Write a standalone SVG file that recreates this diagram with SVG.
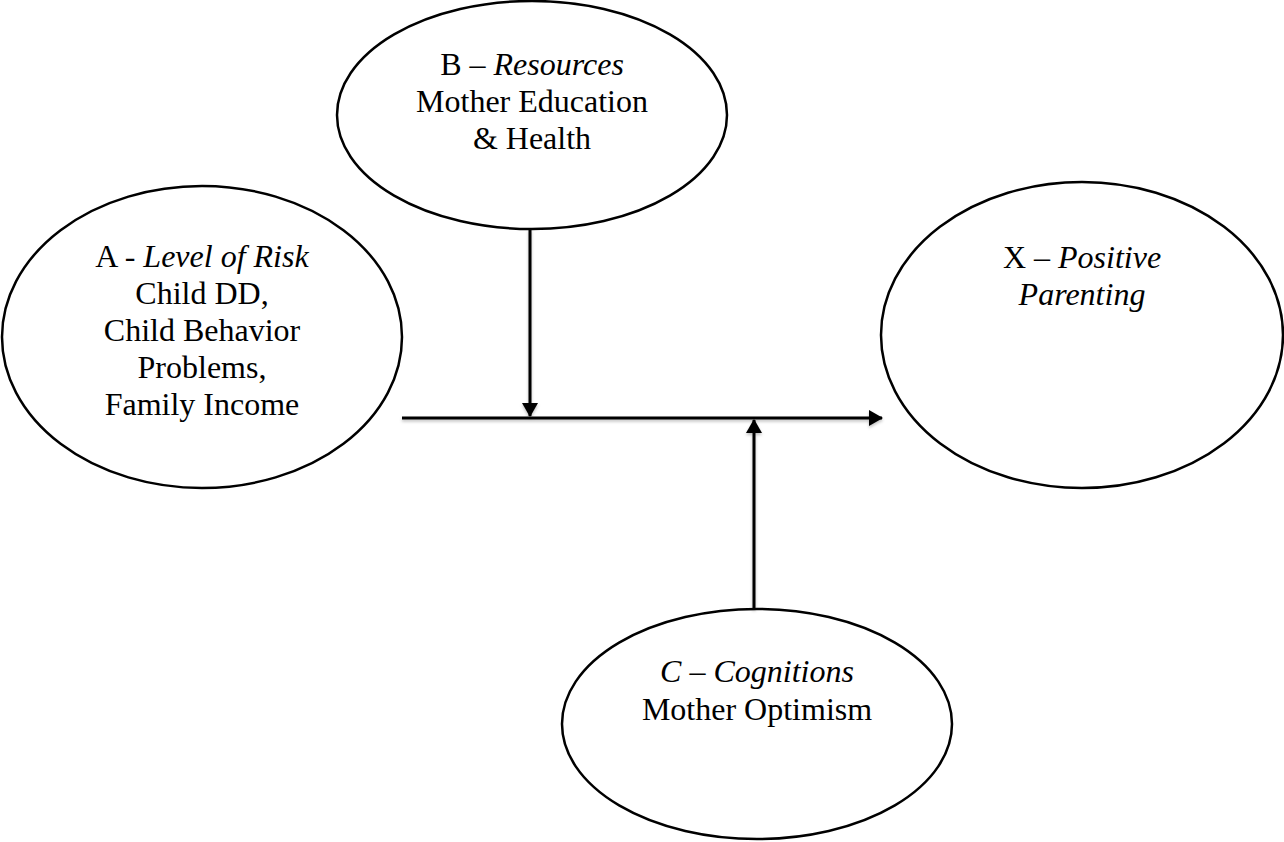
<svg xmlns="http://www.w3.org/2000/svg" width="1284" height="842" viewBox="0 0 1284 842">
<style>
.node{fill:#fff;stroke:#000;stroke-width:2.5}
.t{font-family:"Liberation Serif","Times New Roman",serif;font-size:32px;fill:#000;text-anchor:middle}
.i{font-style:italic}
.c{stroke:#000;stroke-width:3;fill:none;marker-end:url(#ah)}
</style>
<defs>
<marker id="ah" viewBox="0 0 14 16" refX="13" refY="8" markerWidth="14" markerHeight="16" markerUnits="userSpaceOnUse" orient="auto">
<path d="M0,0 L14,8 L0,16 Z" fill="#000"/>
</marker>
<filter id="sh" x="-10%" y="-10%" width="120%" height="130%">
<feDropShadow dx="0" dy="2" stdDeviation="1.5" flood-color="#000" flood-opacity="0.25"/>
</filter>
</defs>
<rect width="1284" height="842" fill="#fff"/>
<g id="nodeA">
<ellipse class="node" cx="202" cy="337" rx="200" ry="151"/>
<text class="t" x="202" y="267">A - <tspan class="i">Level of Risk</tspan></text>
<text class="t" x="202" y="304">Child DD,</text>
<text class="t" x="202" y="341">Child Behavior</text>
<text class="t" x="202" y="378">Problems,</text>
<text class="t" x="202" y="415">Family Income</text>
</g>
<g id="nodeB">
<ellipse class="node" cx="532" cy="115" rx="195" ry="114"/>
<text class="t" x="532" y="75">B – <tspan class="i">Resources</tspan></text>
<text class="t" x="532" y="112">Mother Education</text>
<text class="t" x="532" y="149">&amp; Health</text>
</g>
<g id="nodeX">
<ellipse class="node" cx="1082" cy="335" rx="201" ry="153"/>
<text class="t" x="1082" y="268">X – <tspan class="i">Positive</tspan></text>
<text class="t i" x="1082" y="305">Parenting</text>
</g>
<g id="nodeC">
<ellipse class="node" cx="757" cy="724" rx="195" ry="115"/>
<text class="t" x="757" y="682"><tspan class="i">C</tspan> – <tspan class="i">Cognitions</tspan></text>
<text class="t" x="757" y="720">Mother Optimism</text>
</g>
<g id="connectors" filter="url(#sh)">
<line class="c" x1="402" y1="418" x2="882" y2="418"/>
<line class="c" x1="530" y1="229" x2="530" y2="416"/>
<line class="c" x1="754" y1="609" x2="754" y2="420"/>
</g>
</svg>
